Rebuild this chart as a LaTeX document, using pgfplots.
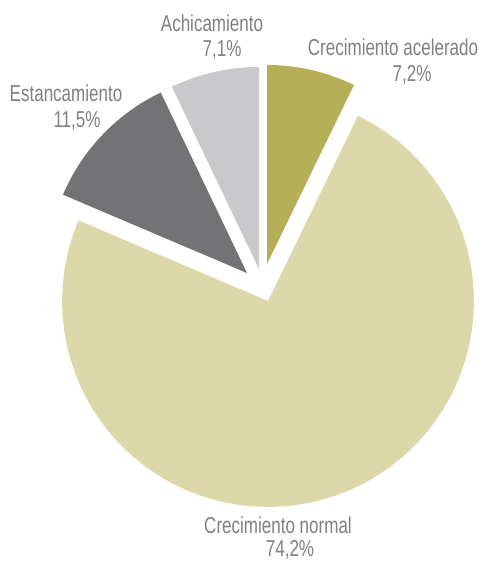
\documentclass[border=0pt]{standalone}
\usepackage{fontspec}
\setmainfont[FakeStretch=0.74]{Liberation Sans}
\usepackage{pgfplots}
\pgfplotsset{compat=1.18}

\definecolor{cAcel}{HTML}{B7AE58}
\definecolor{cNorm}{HTML}{DDD8AA}
\definecolor{cEst}{HTML}{737375}
\definecolor{cAchi}{HTML}{C9C9CB}
\definecolor{cTxt}{HTML}{808080}

% shares in percent, clockwise from 12 o'clock
\def\pAcel{7.2}
\def\pNorm{74.2}
\def\pEst{11.5}
\def\pAchi{7.1}

\tikzset{lbl/.style={text=cTxt, inner sep=0pt, font=\fontsize{23}{23}\selectfont}}

\begin{document}
\begin{tikzpicture}
\pgfmathsetmacro\aA{90}
\pgfmathsetmacro\aB{\aA-3.6*\pAcel}
\pgfmathsetmacro\aC{\aB-3.6*\pNorm}
\pgfmathsetmacro\aD{\aC-3.6*\pEst}
\pgfmathsetmacro\aE{\aD-3.6*\pAchi}
\begin{axis}[
    hide axis,
    scale only axis,
    width=477pt, height=564pt,
    xmin=0, xmax=477,
    ymin=0, ymax=564,
    clip=false,
    samples=60,
]
\path (axis cs:0,0) rectangle (axis cs:477,564);

% Crecimiento acelerado
\addplot[fill=cAcel, draw=none, domain=\aB:\aA, variable=\t]
    ({267+199*cos(\t)}, {300+199*sin(\t)}) -- (axis cs:267,300) -- cycle;
% Crecimiento normal
\addplot[fill=cNorm, draw=none, domain=\aC:\aB, variable=\t]
    ({268+206*cos(\t)}, {263+206*sin(\t)}) -- (axis cs:268,263) -- cycle;
% Estancamiento
\addplot[fill=cEst, draw=none, domain=\aD:\aC, variable=\t]
    ({247+200*cos(\t)}, {291+200*sin(\t)}) -- (axis cs:247,291) -- cycle;
% Achicamiento
\addplot[fill=cAchi, draw=none, domain=\aE:\aD, variable=\t]
    ({259+202*cos(\t)}, {295+202*sin(\t)}) -- (axis cs:259,295) -- cycle;

\node[lbl] at (axis cs:212,541) {Achicamiento};
\node[lbl] at (axis cs:222,514) {7,1\%};
\node[lbl] at (axis cs:393,517) {Crecimiento acelerado};
\node[lbl] at (axis cs:412,489) {7,2\%};
\node[lbl] at (axis cs:66,471) {Estancamiento};
\node[lbl] at (axis cs:77,443) {11,5\%};
\node[lbl] at (axis cs:278,39) {Crecimiento normal};
\node[lbl] at (axis cs:290,14) {74,2\%};
\end{axis}
\end{tikzpicture}
\end{document}
